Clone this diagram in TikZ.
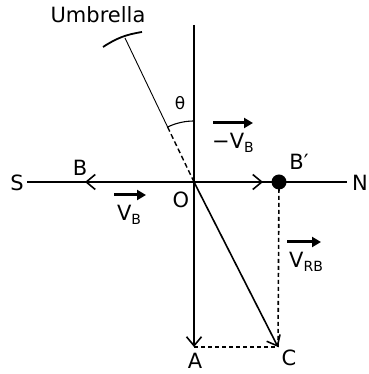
\documentclass[tikz,border=0pt]{standalone}
\usepackage{fontspec}
\setmainfont{DejaVu Sans}
\usetikzlibrary{arrows.meta}
\newcommand{\sbs}[1]{\raisebox{-0.35ex}{\fontsize{14}{14}\selectfont #1}}
\begin{document}
\begin{tikzpicture}[x=1pt,y=1pt,
  lbl/.style={font=\fontsize{21}{23}\selectfont, inner sep=0pt},
  ax/.style={line width=1.6pt},
  vec/.style={line width=1.6pt, -{Straight Barb[length=9pt,width=15pt,line width=1.6pt]}},
  dsh/.style={line width=1.6pt, dash pattern=on 4pt off 3pt},
  lvec/.style={line width=3pt, -{Triangle[length=9pt,width=10pt]}}]
\useasboundingbox (0,0) rectangle (368,374);
% points
\coordinate (O) at (194,192);
\coordinate (top) at (194,349);
\coordinate (W) at (27,192);
\coordinate (E) at (347,192);
\coordinate (Btip) at (85,192);
\coordinate (Rtip) at (263,192);
\coordinate (Bp) at (279,192);
\coordinate (A) at (194,27);
\coordinate (C) at (278,27);
\coordinate (U) at (125,336);
\coordinate (Um) at (167.6,247);
\coordinate (UL) at (103,327);
\coordinate (UR) at (142,342);
% axes
\draw[ax] (W) -- (E);
\draw[ax] (top) -- (O);
\draw[vec] (O) -- (Btip);
\draw[vec] (O) -- (Rtip);
\draw[vec] (O) -- (A);
\draw[vec] (O) -- (C);
\fill (Bp) circle (7.5);
\draw[dsh] (Bp) -- (C);
\draw[dsh] (A) -- (C);
% umbrella
\draw[line width=0.9pt] (U) -- (Um);
\draw[line width=1.4pt, dash pattern=on 5pt off 3pt] (Um) -- (O);
\draw[line width=1.8pt] (UL) to[bend left=12] (UR);
\draw[line width=1.1pt] (O) ++(115.6:61) arc[start angle=115.6, end angle=90, radius=61];
% labels
\node[lbl] (lu) at (98,359) {Umbrella};
\node[font=\fontsize{17}{19}\selectfont, inner sep=0pt] (lth) at (180,271) {θ};
\node[lbl] (lS) at (17,191) {S};
\node[lbl] (lN) at (360,191) {N};
\node[lbl] (lB) at (80,206) {B};
\node[lbl] (lBp) at (299,212) {B′};
\node[lbl] (lO) at (181,174) {O};
\node[lbl] (lA) at (195,13) {A};
\node[lbl] (lC) at (289,16) {C};
% vector labels
\coordinate (v1a) at (213,251); \coordinate (v1b) at (253,251);
\draw[lvec] (v1a) -- (v1b);
\node[lbl] (lmv) at (233,231) {−V\sbs{B}};
\coordinate (v2a) at (114,179); \coordinate (v2b) at (146,179);
\draw[lvec] (v2a) -- (v2b);
\node[lbl] (lvb) at (129,159) {V\sbs{B}};
\coordinate (v3a) at (287,132); \coordinate (v3b) at (321,132);
\draw[lvec] (v3a) -- (v3b);
\node[lbl] (lvrb) at (306,112) {V\sbs{RB}};
\end{tikzpicture}
\end{document}
